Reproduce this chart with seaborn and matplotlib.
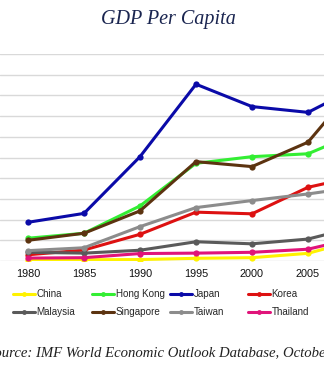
import matplotlib
matplotlib.use("Agg")
import matplotlib.pyplot as plt
import seaborn as sns
import pandas as pd
from matplotlib.lines import Line2D

years = [1980, 1985, 1990, 1995, 2000, 2005, 2010]
china = [250, 300, 350, 650, 800, 1850, 5500]
hong_kong = [5500, 6700, 13300, 23600, 25200, 25900, 31600]
japan = [9350, 11500, 25200, 42700, 37300, 35900, 42800]
korea = [1500, 2650, 6450, 11800, 11400, 17800, 20800]
malaysia = [2100, 1900, 2600, 4650, 4150, 5300, 8700]
singapore = [5000, 6700, 12100, 24000, 22800, 28700, 44700]
taiwan = [2500, 3200, 8300, 12900, 14600, 16200, 18100]
thailand = [700, 800, 1800, 1900, 2100, 2850, 6000]
countries = ["China", "Hong Kong", "Japan", "Korea",
             "Malaysia", "Singapore", "Taiwan", "Thailand"]
series = [china, hong_kong, japan, korea, malaysia, singapore, taiwan, thailand]
tick_years = [1980, 1985, 1990, 1995, 2000, 2005]
title = "GDP Per Capita"
source = "Source: IMF World Economic Outlook Database, October 2010"

colors = {"China": "#FFF200", "Hong Kong": "#33EE33", "Japan": "#0A0AA8",
          "Korea": "#DD1111", "Malaysia": "#5A5A5A", "Singapore": "#5C3310",
          "Taiwan": "#8C8C8C", "Thailand": "#E0147A"}

df = pd.DataFrame([(c, y, v) for c, s in zip(countries, series) for y, v in zip(years, s)],
                  columns=["Country", "Year", "GDP"])

sns.set_style("white")
W, H = 324, 365
fig = plt.figure(figsize=(W / 100, H / 100), dpi=100)

px_per_year = 56 / 5.0
x0 = 1980 - 28 / px_per_year
ax = fig.add_axes([0, (H - 261) / H, 1, (261 - 54) / H])
sns.lineplot(data=df, x="Year", y="GDP", hue="Country", hue_order=countries,
             palette=colors, marker="o", markersize=4.5, markeredgewidth=0,
             linewidth=2.2, legend=False, ax=ax)
ax.set_xlim(x0, x0 + W / px_per_year)
ax.set_ylim(0, 50000)
ax.set_yticks(range(0, 50001, 5000))
ax.yaxis.grid(True, color="#D9D9D9", linewidth=1)
ax.xaxis.grid(False)
ax.set_axisbelow(True)
ax.set_xticks(tick_years)
ax.set_xticklabels([str(y) for y in tick_years], fontsize=7.8,
                   family="Liberation Sans", color="#111111")
ax.tick_params(axis="x", length=0, pad=6)
ax.set_yticklabels([])
ax.tick_params(axis="y", length=0)
ax.set_xlabel("")
ax.set_ylabel("")
for s in ax.spines.values():
    s.set_visible(False)

fig.text(168 / W, (H - 24) / H, title, ha="center", va="baseline",
         fontsize=14.5, family="Liberation Serif", style="italic", color="#1A2550")

col_x = [13, 92, 170, 248]
for i in range(4):
    names = [countries[i], countries[i + 4]]
    handles = [Line2D([], [], color=colors[n], marker="o", markersize=3.5,
                      markeredgewidth=0, linewidth=2.2) for n in names]
    fig.legend(handles, names, loc="upper left",
               bbox_to_anchor=(col_x[i] / W, (H - 289) / H),
               frameon=False, ncol=1, borderpad=0, borderaxespad=0,
               handlelength=2.2, handletextpad=0.2, labelspacing=0.85,
               prop={"family": "Liberation Sans", "size": 7.1})

fig.text(-13 / W, (H - 356) / H, source, ha="left", va="baseline",
         fontsize=10.6, family="Liberation Serif", style="italic", color="#222222")

fig.savefig("out.png", dpi=100, facecolor="white")
